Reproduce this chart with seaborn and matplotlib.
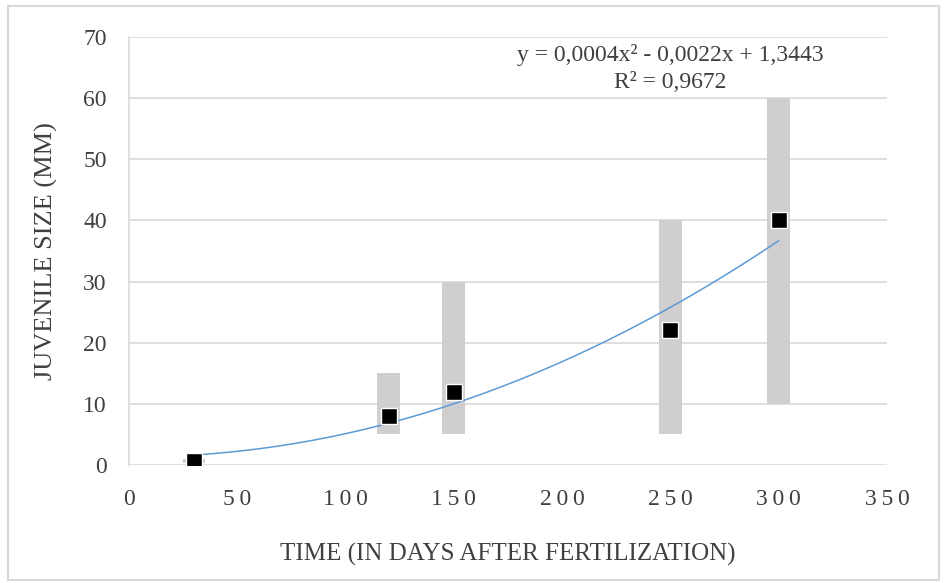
import matplotlib.pyplot as plt
import seaborn as sns
import numpy as np
from matplotlib.patches import Rectangle

# Data
days = [30, 120, 150, 250, 300]
mean_size = [0.7, 8, 12, 22, 40]
range_low = [0.4, 5, 5, 5, 10]
range_high = [1.0, 15, 30, 40, 60]

# Polynomial trendline coefficients (as printed on the chart)
trend_coef = [0.0004, -0.0022, 1.3443]

x_ticks = [0, 50, 100, 150, 200, 250, 300, 350]
y_ticks = [0, 10, 20, 30, 40, 50, 60, 70]


def main():
    sns.set_theme(style='white')
    plt.rcParams['font.family'] = ['Liberation Serif', 'DejaVu Serif']

    fig = plt.figure(figsize=(9.44, 5.83), dpi=100)
    ax = fig.add_axes([0.1366, 0.2024, 0.8030, 0.7341])

    # range bars
    ax.bar(days, np.array(range_high) - np.array(range_low), bottom=range_low,
           width=10.5, color='#d0cece', linewidth=0, zorder=2)

    # trendline
    xs = np.linspace(days[0], days[-1], 200)
    ys = np.polyval(trend_coef, xs)
    sns.lineplot(x=xs, y=ys, ax=ax, color='#5b9bd5', linewidth=1.1, zorder=3)

    # mean points
    sns.scatterplot(x=days, y=mean_size, ax=ax, marker='s', s=120,
                    color='black', edgecolor='white', linewidth=1, zorder=4)

    ax.set_xlim(0, 350)
    ax.set_ylim(0, 70)
    ax.set_xticks(x_ticks)
    ax.set_xticklabels(['\u2009'.join(str(t)) for t in x_ticks])
    ax.set_yticks(y_ticks)
    ax.tick_params(axis='both', labelsize=17, colors='#404040', length=0)
    ax.tick_params(axis='x', pad=17)
    ax.tick_params(axis='y', pad=16)
    ax.yaxis.grid(True, color='#d9d9d9', linewidth=1.2, zorder=0)
    ax.set_axisbelow(True)
    for side in ['top', 'right', 'bottom']:
        ax.spines[side].set_visible(False)
    ax.spines['left'].set_color('#d9d9d9')
    ax.spines['left'].set_linewidth(1.2)

    ax.set_xlabel('TIME (IN DAYS AFTER FERTILIZATION)', fontsize=18,
                  color='#404040', labelpad=24)
    ax.set_ylabel('JUVENILE SIZE (MM)', fontsize=19, color='#404040', labelpad=18)

    fig.text(0.71, 0.906, 'y = 0,0004x² - 0,0022x + 1,3443', ha='center',
             va='center', fontsize=17, color='#404040')
    fig.text(0.71, 0.858, 'R² = 0,9672', ha='center', va='center',
             fontsize=17, color='#404040')

    fig.patches.append(Rectangle((0.009, 0.006), 0.986, 0.983, transform=fig.transFigure,
                                 fill=False, edgecolor='#d9d9d9', linewidth=1.5))

    fig.savefig('out.png', dpi=100)


if __name__ == "__main__":
    main()
